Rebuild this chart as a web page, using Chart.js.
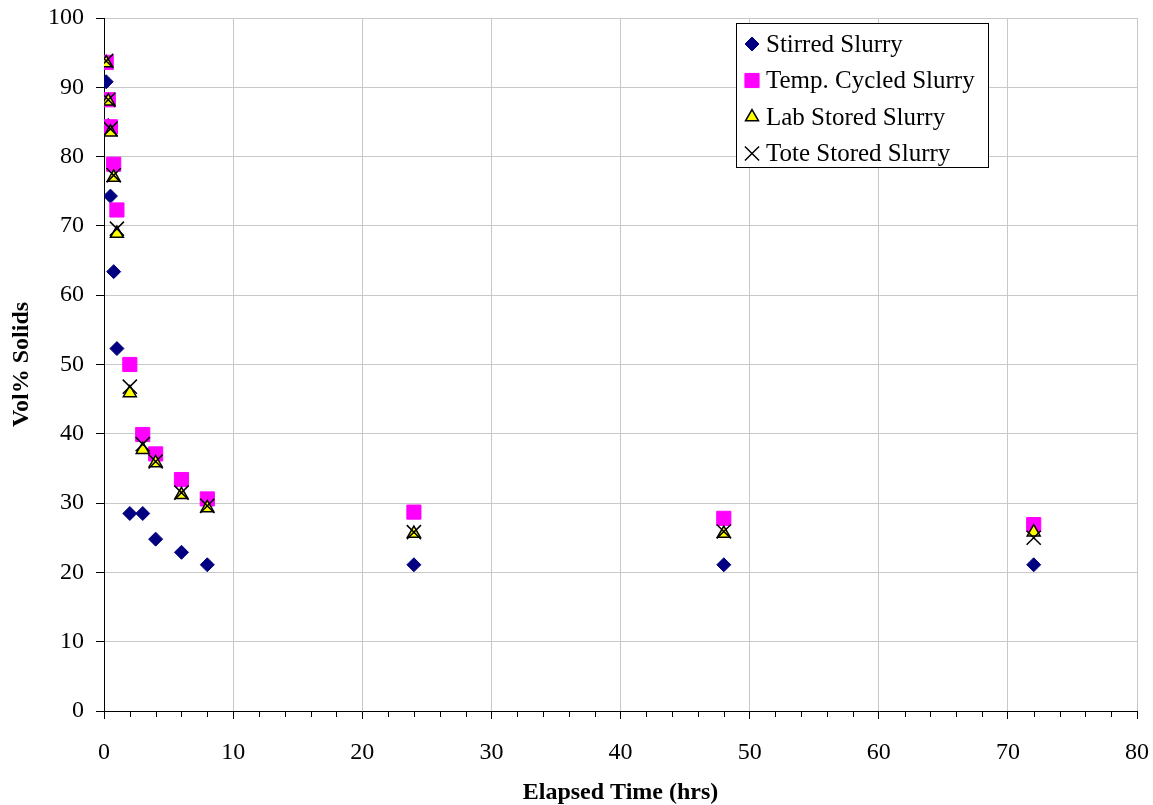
<!DOCTYPE html>
<html>
<head>
<meta charset="utf-8">
<script src="https://cdn.jsdelivr.net/npm/chart.js@4/dist/chart.umd.min.js"></script>
<style>
  html, body { margin: 0; padding: 0; background: #ffffff; }
  #wrap { position: relative; width: 1153px; height: 805px; }
</style>
</head>
<body>
<div id="wrap"><canvas id="c" width="1153" height="805"></canvas></div>
<script>
// ---- Data ----
const elapsedHours = [0.17, 0.33, 0.5, 0.75, 1, 2, 3, 4, 6, 8, 24, 48, 72];
const stirredSlurry = [90.8, 84.5, 74.3, 63.4, 52.3, 28.5, 28.5, 24.8, 22.9, 21.1, 21.1, 21.1, 21.1];
const tempCycledSlurry = [93.6, 88.2, 84.3, 78.9, 72.3, 50.0, 39.9, 37.1, 33.4, 30.6, 28.7, 27.8, 26.9];
const labStoredSlurry = [93.5, 88.0, 83.5, 77.0, 68.9, 45.9, 37.7, 35.8, 31.2, 29.3, 25.6, 25.6, 25.8];
const toteStoredSlurry = [93.8, 88.2, 84.0, 77.3, 69.6, 46.8, 38.5, 36.0, 31.5, 29.6, 25.8, 25.9, 25.0];
const seriesLabels = ['Stirred Slurry', 'Temp. Cycled Slurry', 'Lab Stored Slurry', 'Tote Stored Slurry'];
const xTitle = 'Elapsed Time (hrs)';
const yTitle = 'Vol% Solids';

const toPoints = (ys) => elapsedHours.map((x, i) => ({ x: x, y: ys[i] }));

const serif = "'Liberation Serif', 'Times New Roman', serif";

const datasets = [
  { label: seriesLabels[0], data: toPoints(stirredSlurry), pointStyle: 'rectRot', pointRadius: 7,
    backgroundColor: '#000080', borderColor: '#000080', borderWidth: 1, order: 4 },
  { label: seriesLabels[1], data: toPoints(tempCycledSlurry), pointStyle: 'rect', pointRadius: 10,
    backgroundColor: '#FF00FF', borderColor: '#FF00FF', borderWidth: 1, order: 3 },
  { label: seriesLabels[2], data: toPoints(labStoredSlurry), pointStyle: 'triangle', pointRadius: 7.5,
    backgroundColor: '#FFFF00', borderColor: '#000000', borderWidth: 1.5, order: 2 },
  { label: seriesLabels[3], data: toPoints(toteStoredSlurry), pointStyle: 'crossRot', pointRadius: 10,
    backgroundColor: '#000000', borderColor: '#000000', borderWidth: 1.5, order: 1 }
];
datasets.forEach(d => { d.pointHoverRadius = d.pointRadius; d.showLine = false; });

const minorTicks = {
  id: 'minorTicks',
  afterDraw(chart) {
    const xs = chart.scales.x;
    const ctx = chart.ctx;
    const y0 = chart.chartArea.bottom;
    ctx.save();
    ctx.strokeStyle = '#000000';
    ctx.lineWidth = 1;
    ctx.beginPath();
    for (let v = xs.min; v <= xs.max; v += 2) {
      if (Math.abs(v % 10) < 1e-9) continue;
      const px = Math.round(xs.getPixelForValue(v)) + 0.5;
      ctx.moveTo(px, y0);
      ctx.lineTo(px, y0 + 6);
    }
    ctx.stroke();
    ctx.restore();
  }
};

const boxLegend = {
  id: 'boxLegend',
  afterDraw(chart) {
    const ctx = chart.ctx;
    const bx = 736.5, by = 23.5, bw = 252, bh = 144;
    ctx.save();
    ctx.fillStyle = '#ffffff';
    ctx.fillRect(bx, by, bw, bh);
    ctx.strokeStyle = '#000000';
    ctx.lineWidth = 1;
    ctx.strokeRect(bx, by, bw, bh);
    chart.data.datasets.forEach((ds, i) => {
      const cy = 44 + i * 36.5;
      ctx.fillStyle = ds.backgroundColor;
      ctx.strokeStyle = ds.borderColor;
      ctx.lineWidth = ds.borderWidth;
      Chart.helpers.drawPoint(ctx, { pointStyle: ds.pointStyle, radius: ds.pointRadius, borderWidth: ds.borderWidth, rotation: 0 }, 752, cy);
      ctx.fillStyle = '#000000';
      ctx.font = '25px ' + serif;
      ctx.textAlign = 'left';
      ctx.textBaseline = 'middle';
      ctx.fillText(ds.label, 766, cy + 1);
    });
    ctx.restore();
  }
};

new Chart(document.getElementById('c'), {
  type: 'scatter',
  data: { datasets: datasets },
  plugins: [minorTicks, boxLegend],
  options: {
    responsive: false,
    animation: false,
    events: [],
    layout: { padding: { left: 0, top: 18, right: 16, bottom: 0 } },
    plugins: { legend: { display: false }, tooltip: { enabled: false }, title: { display: false } },
    scales: {
      x: {
        type: 'linear', min: 0, max: 80,
        ticks: { stepSize: 10, color: '#000000', font: { family: serif, size: 24 }, padding: 19, maxRotation: 0 },
        grid: { color: '#c8c8c8', tickColor: '#000000', tickLength: 8, lineWidth: 1 },
        border: { color: '#000000', width: 1 },
        title: { display: true, text: xTitle, color: '#000000', font: { family: serif, size: 24, weight: 'bold', lineHeight: 1 }, padding: { top: 0, bottom: 0 } },
        afterFit(s) { s.height = 94; s.paddingLeft = 0; s.paddingRight = 0; }
      },
      y: {
        type: 'linear', min: 0, max: 100,
        ticks: { stepSize: 10, color: '#000000', font: { family: serif, size: 24 }, padding: 12 },
        grid: { color: '#c8c8c8', tickColor: '#000000', tickLength: 8, lineWidth: 1 },
        border: { color: '#000000', width: 1 },
        title: { display: true, text: yTitle, color: '#000000', font: { family: serif, size: 24, weight: 'bold', lineHeight: 1 }, padding: { top: 10, bottom: 0 } },
        afterFit(s) { s.width = 104; s.paddingTop = 0; s.paddingBottom = 0; }
      }
    }
  }
});
</script>
</body>
</html>
